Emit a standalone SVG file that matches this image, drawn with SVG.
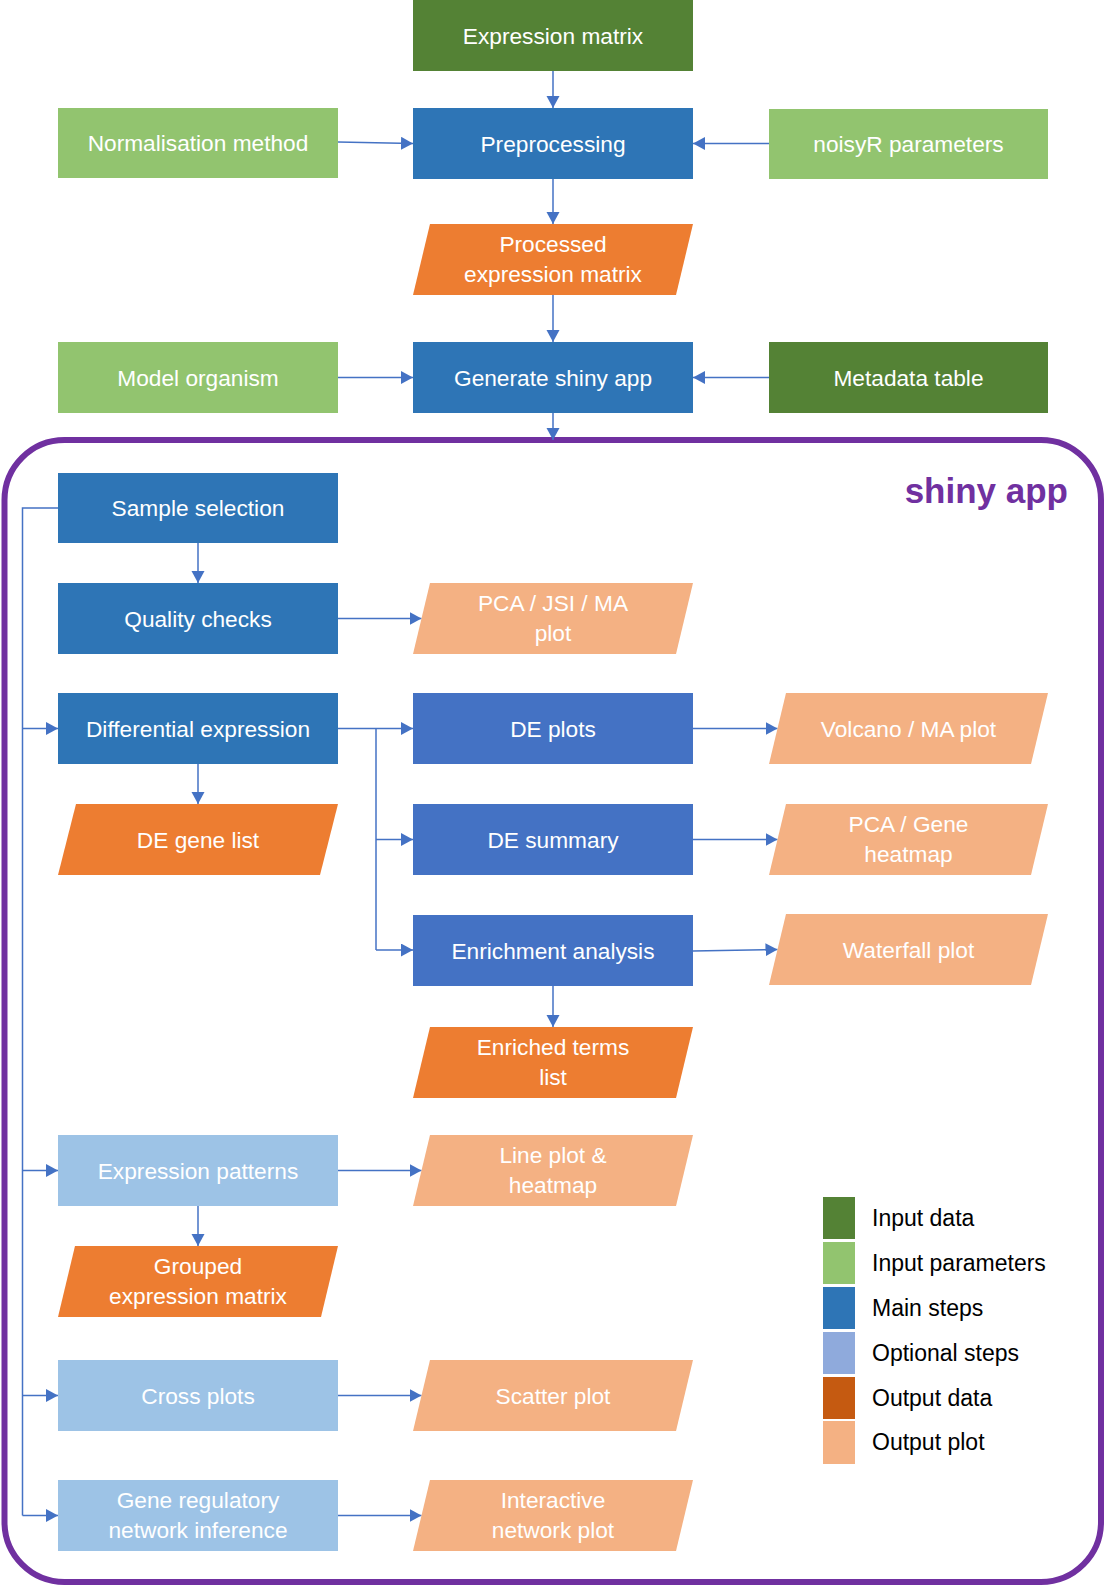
<svg xmlns="http://www.w3.org/2000/svg" width="1107" height="1586" viewBox="0 0 1107 1586">
  <defs>
    <style>
      .in-data { fill: #548235; }
      .in-param { fill: #92C46F; }
      .main { fill: #2E75B6; }
      .sub { fill: #4472C4; }
      .opt { fill: #9DC3E6; }
      .out-data { fill: #ED7D31; }
      .out-plot { fill: #F4B183; }
      .lbl { font-family: "Liberation Sans", Arial, sans-serif; font-size: 22.7px; fill: #FFFFFF; text-anchor: middle; }
      .leg { font-family: "Liberation Sans", Arial, sans-serif; font-size: 23px; fill: #000000; }
      .conn { fill: none; stroke: #4472C4; stroke-width: 1.5; }
      .arr { marker-end: url(#head); }
    </style>
    <marker id="head" markerUnits="userSpaceOnUse" markerWidth="13" markerHeight="14" refX="12" refY="6.5" orient="auto">
      <path d="M0,0 L12,6.5 L0,13 z" fill="#4472C4"/>
    </marker>
  </defs>

  <rect width="1107" height="1586" fill="#FFFFFF"/>

  <!-- app container -->
  <g id="shiny-app-frame">
    <rect x="4.5" y="440" width="1096.5" height="1142" rx="60" ry="60" fill="none" stroke="#7030A0" stroke-width="6"/>
    <text x="1068" y="503" font-family="'Liberation Sans', Arial, sans-serif" font-size="35" font-weight="bold" fill="#7030A0" text-anchor="end">shiny app</text>
  </g>

  <!-- connectors -->
  <g id="connectors">
    <line class="conn arr" x1="553" y1="71" x2="553" y2="108"/>
    <line class="conn arr" x1="338" y1="142" x2="413" y2="143.5"/>
    <line class="conn arr" x1="769" y1="143.5" x2="693" y2="143.5"/>
    <line class="conn arr" x1="553" y1="179" x2="553" y2="224"/>
    <line class="conn arr" x1="553" y1="295" x2="553" y2="342"/>
    <line class="conn arr" x1="338" y1="377.5" x2="413" y2="377.5"/>
    <line class="conn arr" x1="769" y1="377.5" x2="693" y2="377.5"/>
    <line class="conn arr" x1="553" y1="413" x2="553" y2="440"/>

    <line class="conn arr" x1="198" y1="543" x2="198" y2="583"/>
    <line class="conn arr" x1="338" y1="618.5" x2="421.5" y2="618.5"/>

    <!-- sample selection bus -->
    <path class="conn" d="M58,508 H22.5 V1515.5"/>
    <line class="conn arr" x1="22.5" y1="728.5" x2="58" y2="728.5"/>
    <line class="conn arr" x1="22.5" y1="1170.5" x2="58" y2="1170.5"/>
    <line class="conn arr" x1="22.5" y1="1395.5" x2="58" y2="1395.5"/>
    <line class="conn arr" x1="22.5" y1="1515.5" x2="58" y2="1515.5"/>

    <!-- differential expression branches -->
    <line class="conn arr" x1="338" y1="728.5" x2="413" y2="728.5"/>
    <path class="conn" d="M376,728.5 V950"/>
    <line class="conn arr" x1="376" y1="839.5" x2="413" y2="839.5"/>
    <line class="conn arr" x1="376" y1="950" x2="413" y2="950"/>
    <line class="conn arr" x1="198" y1="764" x2="198" y2="804"/>

    <line class="conn arr" x1="693" y1="728.5" x2="777.5" y2="728.5"/>
    <line class="conn arr" x1="693" y1="839.5" x2="777.5" y2="839.5"/>
    <line class="conn arr" x1="693" y1="951" x2="777.5" y2="949.5"/>
    <line class="conn arr" x1="553" y1="986" x2="553" y2="1027"/>

    <line class="conn arr" x1="338" y1="1170.5" x2="421.5" y2="1170.5"/>
    <line class="conn arr" x1="198" y1="1206" x2="198" y2="1246"/>
    <line class="conn arr" x1="338" y1="1395.5" x2="421.5" y2="1395.5"/>
    <line class="conn arr" x1="338" y1="1515.5" x2="421.5" y2="1515.5"/>
  </g>

  <!-- pipeline nodes -->
  <g id="expression-matrix">
    <rect class="in-data" x="413" y="0" width="280" height="71"/>
    <text class="lbl" x="553" y="43.5">Expression matrix</text>
  </g>
  <g id="normalisation-method">
    <rect class="in-param" x="58" y="108" width="280" height="70"/>
    <text class="lbl" x="198" y="151">Normalisation method</text>
  </g>
  <g id="preprocessing">
    <rect class="main" x="413" y="108" width="280" height="71"/>
    <text class="lbl" x="553" y="151.5">Preprocessing</text>
  </g>
  <g id="noisyr-parameters">
    <rect class="in-param" x="769" y="109" width="279" height="70"/>
    <text class="lbl" x="908.5" y="152">noisyR parameters</text>
  </g>
  <g id="processed-expression-matrix">
    <polygon class="out-data" points="430,224 693,224 676,295 413,295"/>
    <text class="lbl" x="553" y="252">Processed</text>
    <text class="lbl" x="553" y="282">expression matrix</text>
  </g>
  <g id="model-organism">
    <rect class="in-param" x="58" y="342" width="280" height="71"/>
    <text class="lbl" x="198" y="385.5">Model organism</text>
  </g>
  <g id="generate-shiny-app">
    <rect class="main" x="413" y="342" width="280" height="71"/>
    <text class="lbl" x="553" y="385.5">Generate shiny app</text>
  </g>
  <g id="metadata-table">
    <rect class="in-data" x="769" y="342" width="279" height="71"/>
    <text class="lbl" x="908.5" y="385.5">Metadata table</text>
  </g>

  <!-- app nodes -->
  <g id="sample-selection">
    <rect class="main" x="58" y="473" width="280" height="70"/>
    <text class="lbl" x="198" y="516">Sample selection</text>
  </g>
  <g id="quality-checks">
    <rect class="main" x="58" y="583" width="280" height="71"/>
    <text class="lbl" x="198" y="626.5">Quality checks</text>
  </g>
  <g id="qc-plot">
    <polygon class="out-plot" points="430,583 693,583 676,654 413,654"/>
    <text class="lbl" x="553" y="611">PCA / JSI / MA</text>
    <text class="lbl" x="553" y="641">plot</text>
  </g>
  <g id="differential-expression">
    <rect class="main" x="58" y="693" width="280" height="71"/>
    <text class="lbl" x="198" y="736.5">Differential expression</text>
  </g>
  <g id="de-plots">
    <rect class="sub" x="413" y="693" width="280" height="71"/>
    <text class="lbl" x="553" y="736.5">DE plots</text>
  </g>
  <g id="volcano-ma-plot">
    <polygon class="out-plot" points="786,693 1048,693 1031,764 769,764"/>
    <text class="lbl" x="908.5" y="736.5">Volcano / MA plot</text>
  </g>
  <g id="de-gene-list">
    <polygon class="out-data" points="76,804 338,804 320,875 58,875"/>
    <text class="lbl" x="198" y="847.5">DE gene list</text>
  </g>
  <g id="de-summary">
    <rect class="sub" x="413" y="804" width="280" height="71"/>
    <text class="lbl" x="553" y="847.5">DE summary</text>
  </g>
  <g id="pca-gene-heatmap">
    <polygon class="out-plot" points="786,804 1048,804 1031,875 769,875"/>
    <text class="lbl" x="908.5" y="832">PCA / Gene</text>
    <text class="lbl" x="908.5" y="862">heatmap</text>
  </g>
  <g id="enrichment-analysis">
    <rect class="sub" x="413" y="915" width="280" height="71"/>
    <text class="lbl" x="553" y="958.5">Enrichment analysis</text>
  </g>
  <g id="waterfall-plot">
    <polygon class="out-plot" points="786,914 1048,914 1031,985 769,985"/>
    <text class="lbl" x="908.5" y="957.5">Waterfall plot</text>
  </g>
  <g id="enriched-terms-list">
    <polygon class="out-data" points="430,1027 693,1027 676,1098 413,1098"/>
    <text class="lbl" x="553" y="1055">Enriched terms</text>
    <text class="lbl" x="553" y="1085">list</text>
  </g>
  <g id="expression-patterns">
    <rect class="opt" x="58" y="1135" width="280" height="71"/>
    <text class="lbl" x="198" y="1178.5">Expression patterns</text>
  </g>
  <g id="line-plot-heatmap">
    <polygon class="out-plot" points="430,1135 693,1135 676,1206 413,1206"/>
    <text class="lbl" x="553" y="1163">Line plot &amp;</text>
    <text class="lbl" x="553" y="1193">heatmap</text>
  </g>
  <g id="grouped-expression-matrix">
    <polygon class="out-data" points="75,1246 338,1246 321,1317 58,1317"/>
    <text class="lbl" x="198" y="1274">Grouped</text>
    <text class="lbl" x="198" y="1304">expression matrix</text>
  </g>
  <g id="cross-plots">
    <rect class="opt" x="58" y="1360" width="280" height="71"/>
    <text class="lbl" x="198" y="1403.5">Cross plots</text>
  </g>
  <g id="scatter-plot">
    <polygon class="out-plot" points="430,1360 693,1360 676,1431 413,1431"/>
    <text class="lbl" x="553" y="1403.5">Scatter plot</text>
  </g>
  <g id="gene-regulatory-network">
    <rect class="opt" x="58" y="1480" width="280" height="71"/>
    <text class="lbl" x="198" y="1508">Gene regulatory</text>
    <text class="lbl" x="198" y="1538">network inference</text>
  </g>
  <g id="interactive-network-plot">
    <polygon class="out-plot" points="430,1480 693,1480 676,1551 413,1551"/>
    <text class="lbl" x="553" y="1508">Interactive</text>
    <text class="lbl" x="553" y="1538">network plot</text>
  </g>

  <!-- colour key -->
  <g id="legend">
    <rect x="823" y="1197" width="32" height="42" fill="#548235"/>
    <rect x="823" y="1242" width="32" height="42" fill="#92C46F"/>
    <rect x="823" y="1287" width="32" height="42" fill="#2E75B6"/>
    <rect x="823" y="1332" width="32" height="42" fill="#8FAADC"/>
    <rect x="823" y="1377" width="32" height="42" fill="#C55A11"/>
    <rect x="823" y="1421" width="32" height="43" fill="#F4B183"/>
    <text class="leg" x="872" y="1226">Input data</text>
    <text class="leg" x="872" y="1271">Input parameters</text>
    <text class="leg" x="872" y="1316">Main steps</text>
    <text class="leg" x="872" y="1361">Optional steps</text>
    <text class="leg" x="872" y="1406">Output data</text>
    <text class="leg" x="872" y="1450">Output plot</text>
  </g>
</svg>
